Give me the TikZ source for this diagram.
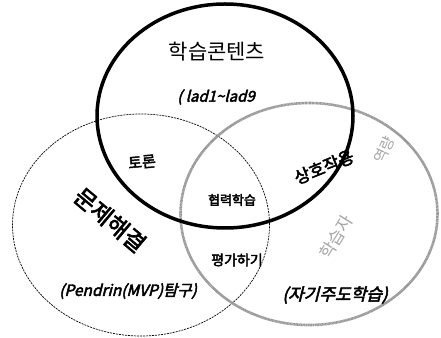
\documentclass[tikz,border=0pt]{standalone}
\usepackage{fontspec}
\usetikzlibrary{shapes.geometric}
\newfontfamily\kr{Noto Sans CJK KR}
\newfontfamily\krb[FakeBold=3]{Noto Sans CJK KR}
\newfontfamily\krbs[FakeBold=3,FakeSlant=0.25]{Noto Sans CJK KR}
\tikzset{
  venn/.style={ellipse, inner sep=0pt, minimum width=257pt, minimum height=222pt},
  lbl/.style={inner sep=0pt, text=black},
  glbl/.style={inner sep=0pt, text=black!35},
}
\begin{document}
\begin{tikzpicture}[x=1pt,y=1pt]
\useasboundingbox (0,0) rectangle (441,337);
\fill[white] (0,0) rectangle (441,337);
% circles
\node[venn, draw=black, line width=0.7pt, dash pattern=on 2pt off 1pt] (left) at (141,112) {};
\node[venn, draw=black!40, line width=2.6pt, dash pattern=on 1pt off 0.4pt] (right) at (309,123) {};
\node[venn, draw=black, line width=3.5pt, minimum width=256pt, minimum height=224pt] (top) at (225,221) {};
% texts
\node[lbl, font=\kr\fontsize{21}{21}\selectfont] (t1) at (217,285) {학습콘텐츠};
\node[lbl, font=\krbs\fontsize{15}{15}\selectfont] (t2) at (216,240) {( lad1{\char"7E}lad9};
\node[lbl, font=\krb\fontsize{15}{15}\selectfont, rotate=5] (t3) at (142,175) {토론};
\node[lbl, font=\krb\fontsize{23}{23}\selectfont, rotate=-40] (t4) at (110,117) {문제해결};
\node[lbl, font=\krbs\fontsize{15.5}{15.5}\selectfont] (t5) at (128,46) {(Pendrin(MVP)탐구)};
\node[lbl, font=\krb\fontsize{13}{13}\selectfont] (t6) at (232,137) {협력학습};
\node[lbl, font=\krb\fontsize{14}{14}\selectfont] (t7) at (237,77) {평가하기};
\node[lbl, font=\krb\fontsize{17}{17}\selectfont, rotate=22] (t8) at (324,170) {상호작용};
\node[lbl, font=\krbs\fontsize{17}{17}\selectfont] (t9) at (335,42) {(자기주도학습)};
\node[glbl, font=\kr\fontsize{17}{17}\selectfont, rotate=58] (t10) at (336,100) {학습자};
\node[glbl, font=\kr\fontsize{15}{15}\selectfont, rotate=65] (t11) at (384,187) {역량};
\end{tikzpicture}
\end{document}
